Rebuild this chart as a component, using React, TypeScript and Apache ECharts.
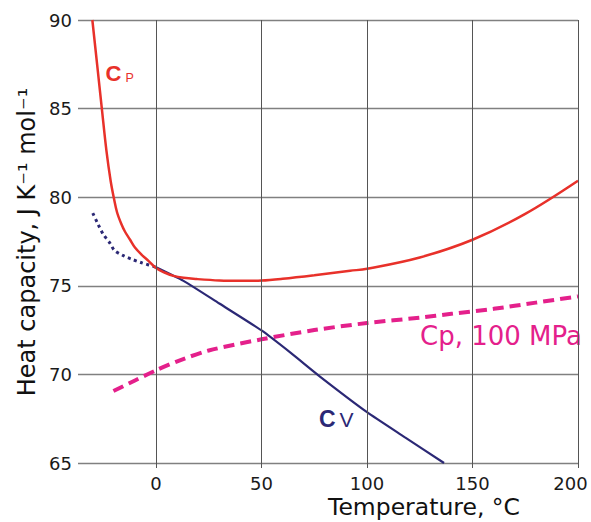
import React, { useEffect, useRef } from "react";
import * as echarts from "echarts";

const xTicks = [0, 50, 100, 150, 200];
const xMin = -37;
const xMax = 200;
const yMin = 65;
const yMax = 90;
const yStep = 5;

const cpData: [number, number][] = [
  [-30.2, 90], [-27.9, 87.45], [-25.7, 85], [-23.5, 82.6], [-21.5, 80.9],
  [-20, 79.95], [-18.5, 79.15], [-16.5, 78.5], [-14.7, 78.05], [-12.3, 77.6],
  [-10, 77.16], [-6.8, 76.75], [-3.6, 76.41], [0, 76.0], [4, 75.75], [8.2, 75.56],
  [13, 75.45], [19.3, 75.38], [30, 75.3], [40, 75.28], [50, 75.3], [60, 75.4],
  [75, 75.6], [92, 75.85], [100, 75.96], [125, 76.6], [150, 77.6], [175, 79.06],
  [200, 80.93],
];

const cvDotted: [number, number][] = [
  [-30, 79.1], [-27.6, 78.5], [-25, 77.9], [-21.8, 77.4], [-19.7, 77.0],
  [-15.5, 76.7], [-11.5, 76.5], [-6.8, 76.3], [0, 76.05],
];

const cvSolid: [number, number][] = [
  [0, 76.05], [13, 75.28], [30, 74.0], [50, 72.48], [64, 71.2], [78, 69.85],
  [100, 67.87], [118, 66.45], [136.5, 65.0],
];

const cp100Data: [number, number][] = [
  [-20.2, 69.06], [-10, 69.66], [0, 70.23], [11, 70.78], [25, 71.35], [50, 71.98],
  [75, 72.5], [100, 72.9], [125, 73.2], [140, 73.42], [160, 73.7], [180, 74.05],
  [200, 74.4],
];

const RED = "#e8312a";
const NAVY = "#2b2875";
const PINK = "#e4208b";
const FONT = "DejaVu Sans";

export default function App() {
  const ref = useRef<HTMLDivElement>(null);
  useEffect(() => {
    if (!ref.current) return;
    const chart = echarts.init(ref.current, null, { renderer: "svg" });
    chart.setOption({
      animation: false,
      backgroundColor: "#ffffff",
      grid: { left: 78, right: 13, top: 20, bottom: 59, containLabel: false, outerBoundsMode: "none" },
      xAxis: {
        type: "value",
        min: xMin,
        max: xMax,
        axisLine: { show: false },
        splitLine: { show: false },
        axisTick: {
          show: true,
          customValues: xTicks,
          length: 5,
          lineStyle: { color: "#555", width: 1 },
        },
        axisLabel: {
          customValues: xTicks,
          margin: 11,
          fontFamily: FONT,
          fontSize: 18,
          color: "#1a1a1a",
          formatter: (v: number) => (v === xTicks[xTicks.length - 1] ? `{last|${v}}` : `${v}`),
          rich: {
            last: { fontFamily: FONT, fontSize: 18, color: "#1a1a1a", padding: [0, 15, 0, 0] },
          },
        },
      },
      yAxis: {
        type: "value",
        min: yMin,
        max: yMax,
        interval: yStep,
        axisLine: { show: false },
        axisTick: { show: false },
        splitLine: { show: true, lineStyle: { color: "#808080", width: 1.3 } },
        axisLabel: {
          margin: 6,
          fontFamily: FONT,
          fontSize: 18,
          color: "#1a1a1a",
        },
      },
      series: [
        {
          type: "line",
          data: [],
          z: 1,
          silent: true,
          markLine: {
            silent: true,
            symbol: "none",
            label: { show: false },
            lineStyle: { color: "#555", width: 1, type: "solid" },
            data: xTicks.map((v) => ({ xAxis: v })),
          },
        },
        {
          type: "line",
          data: cp100Data,
          z: 3,
          symbol: "none",
          smooth: 0.3,
          lineStyle: { color: PINK, width: 4, type: [11, 6] },
        },
        {
          type: "line",
          data: cvDotted,
          z: 3,
          symbol: "none",
          smooth: 0.3,
          lineStyle: { color: NAVY, width: 3, type: [3, 3.5] },
        },
        {
          type: "line",
          data: cvSolid,
          z: 3,
          symbol: "none",
          smooth: 0.2,
          lineStyle: { color: NAVY, width: 2.2 },
        },
        {
          type: "line",
          data: cpData,
          z: 4,
          symbol: "none",
          smooth: 0.35,
          lineStyle: { color: RED, width: 2.5 },
        },
      ],
      graphic: [
        {
          type: "text",
          x: 27,
          y: 242,
          rotation: Math.PI / 2,
          style: {
            text: "Heat capacity, J K⁻¹ mol⁻¹",
            fontFamily: FONT,
            fontSize: 24,
            fill: "#111",
            align: "center",
            verticalAlign: "middle",
          },
        },
        {
          type: "text",
          x: 424,
          y: 507,
          style: {
            text: "Temperature, °C",
            fontFamily: FONT,
            fontSize: 23.5,
            fill: "#111",
            align: "center",
            verticalAlign: "middle",
          },
        },
        {
          type: "text",
          x: 420,
          y: 336,
          style: {
            text: "Cp, 100 MPa",
            fontFamily: FONT,
            fontSize: 26,
            fill: PINK,
            align: "left",
            verticalAlign: "middle",
          },
        },
        {
          type: "text",
          x: 105.5,
          y: 58,
          style: {
            text: "{c|C}{s|P}",
            align: "left",
            verticalAlign: "top",
            rich: {
              c: { fontFamily: "Liberation Sans", fontSize: 22, fontWeight: "bold", fill: RED, lineHeight: 26, verticalAlign: "bottom" },
              s: { fontFamily: "Liberation Sans", fontSize: 12.5, fill: RED, lineHeight: 19, padding: [0, 0, 0, 4], verticalAlign: "bottom" },
            },
          },
        },
        {
          type: "text",
          x: 319,
          y: 400,
          style: {
            text: "{c|C}{s|V}",
            align: "left",
            verticalAlign: "top",
            rich: {
              c: { fontFamily: "Liberation Sans", fontSize: 23, fontWeight: "bold", fill: NAVY, lineHeight: 30, verticalAlign: "bottom" },
              s: { fontFamily: "Liberation Sans", fontSize: 21, fill: NAVY, lineHeight: 14, padding: [0, 0, 0, 4], verticalAlign: "bottom" },
            },
          },
        },
      ],
    });
    return () => chart.dispose();
  }, []);
  return <div ref={ref} style={{ width: 591, height: 522, position: "fixed", left: 0, top: 0 }} />;
}
